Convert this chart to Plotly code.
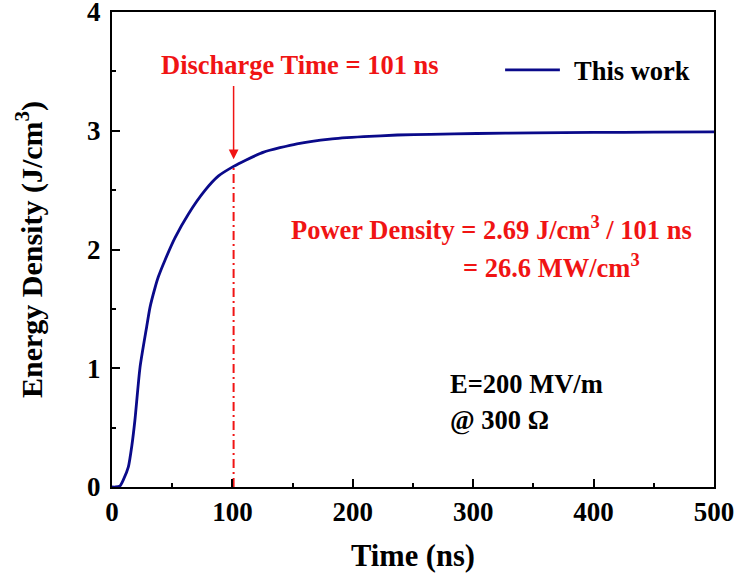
import plotly.graph_objects as go

time_ns = [0, 3, 6.7, 9.4, 13.6, 16.5, 19, 23.3, 28.8, 31.6, 35.8, 38.5, 44, 52.4, 63.5, 77.4, 88.5, 101,
           110.6, 126, 153.6, 181, 209, 237, 264.5, 303, 350, 400, 450, 500]
energy = [0, 0.0, 0.01, 0.06, 0.17, 0.35, 0.56, 1.01, 1.35, 1.515, 1.68, 1.77, 1.91, 2.10, 2.30, 2.50, 2.62, 2.70,
          2.75, 2.82, 2.89, 2.93, 2.95, 2.964, 2.97, 2.977, 2.982, 2.986, 2.988, 2.99]

discharge_t = 101
discharge_e = 2.69
series_name = "This work"

FONT = "Liberation Serif, Times New Roman, serif"
RED = "#f01414"
NAVY = "#0a0a8a"

fig = go.Figure()
fig.add_trace(go.Scatter(x=time_ns, y=energy, mode="lines", name=series_name, showlegend=False,
                         line=dict(color=NAVY, width=2.8, shape="spline", smoothing=0.6)))
fig.add_trace(go.Scatter(x=[discharge_t, discharge_t], y=[0, discharge_e], mode="lines",
                         showlegend=False, line=dict(color=RED, width=2, dash="9px,4px,2px,4px")))

ann_font = dict(family=FONT, size=26.5, color=RED)
fig.add_annotation(x=156, y=3.55, xref="x", yref="y", text="<b>Discharge Time = 101 ns</b>",
                   showarrow=False, font=ann_font)
fig.add_annotation(x=discharge_t, y=2.76, ax=discharge_t, ay=3.39, xref="x", yref="y",
                   axref="x", ayref="y", text="", showarrow=True, arrowhead=2, arrowsize=1.3,
                   arrowwidth=1.5, arrowcolor=RED)
fig.add_annotation(x=147.3, y=2.177, xref="x", yref="y", xanchor="left",
                   text="<b>Power Density = 2.69 J/cm<sup>3</sup> / 101 ns</b>",
                   showarrow=False, font=ann_font)
fig.add_annotation(x=289.5, y=1.857, xref="x", yref="y", xanchor="left",
                   text="<b>= 26.6 MW/cm<sup>3</sup></b>", showarrow=False, font=ann_font)
blk_font = dict(family=FONT, size=26.5, color="black")
fig.add_annotation(x=278.7, y=0.866, xref="x", yref="y", xanchor="left",
                   text="<b>E=200 MV/m</b>", showarrow=False, font=blk_font)
fig.add_annotation(x=278.7, y=0.563, xref="x", yref="y", xanchor="left",
                   text="<b>@ 300 Ω</b>", showarrow=False, font=blk_font)

# legend (drawn as a sample line + label)
fig.add_shape(type="line", xref="paper", yref="paper", x0=0.653, x1=0.744, y0=0.878, y1=0.878,
              line=dict(color=NAVY, width=2.8))
fig.add_annotation(x=0.764, y=0.876, xref="paper", yref="paper", xanchor="left", yanchor="middle",
                   text="<b>" + series_name + "</b>", showarrow=False, font=blk_font)

axis_common = dict(showline=True, linecolor="black", linewidth=2, mirror=True,
                   ticks="inside", ticklen=8, tickwidth=2, tickcolor="black",
                   showgrid=False, zeroline=False, automargin=False,
                   ticklabeloverflow="allow",
                   tickfont=dict(family=FONT, size=27, color="black"),
                   tickprefix="<b>", ticksuffix="</b>")

fig.update_xaxes(range=[0, 500], dtick=100, tick0=0,
                 minor=dict(ticks="inside", ticklen=4, tickwidth=2, dtick=50, tickcolor="black"),
                 title=dict(text="<b>Time (ns)</b>", font=dict(family=FONT, size=30.5, color="black"),
                            standoff=18),
                 **axis_common)
fig.update_yaxes(range=[0, 4], dtick=1, tick0=0,
                 minor=dict(ticks="inside", ticklen=4, tickwidth=2, dtick=0.5, tickcolor="black"),
                 title=dict(text="<b>Energy Density (J/cm<sup>3</sup>)</b>",
                            font=dict(family=FONT, size=30, color="black"), standoff=36),
                 ticklabelstandoff=4,
                 **axis_common)

fig.update_layout(width=736, height=579, margin=dict(l=112, r=22, t=12, b=92),
                  paper_bgcolor="white", plot_bgcolor="white", showlegend=False)

fig.write_html("out.html")
